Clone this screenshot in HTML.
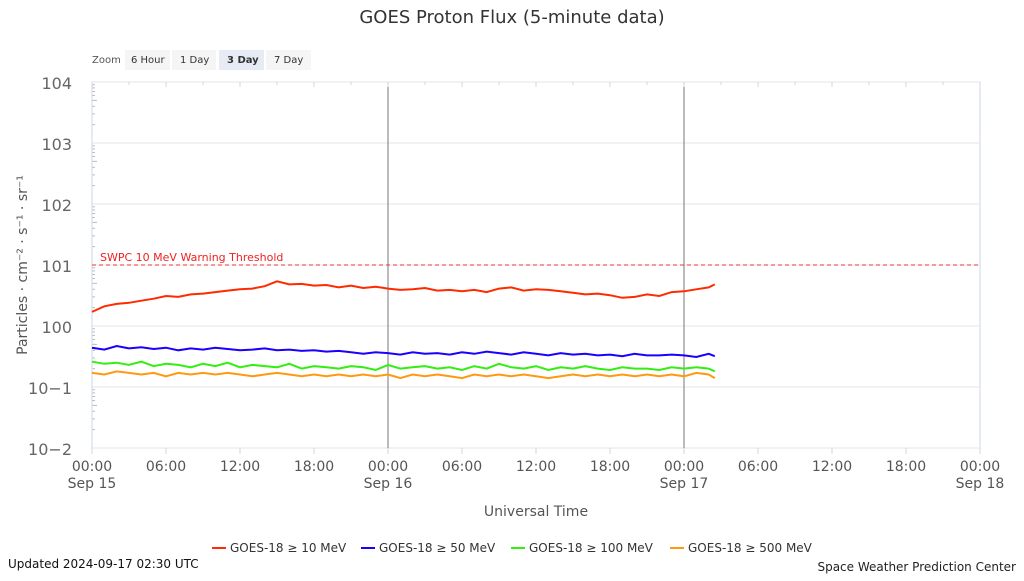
<!DOCTYPE html>
<html><head><meta charset="utf-8"><style>
body{margin:0;background:#fff;font-family:"Liberation Sans","DejaVu Sans",sans-serif}
svg text{font-family:"DejaVu Sans","Liberation Sans",sans-serif}
</style></head><body>
<svg id="c" width="1024" height="576" xmlns="http://www.w3.org/2000/svg">
<rect width="1024" height="576" fill="#fff"/>
<text x="512" y="23" text-anchor="middle" font-size="18" fill="#333">GOES Proton Flux (5-minute data)</text>
<g font-size="10" fill="#333">
<text x="92" y="63" fill="#555">Zoom</text>
<rect x="125" y="50" width="45" height="20" fill="#f5f5f5"/><text x="131" y="63">6 Hour</text>
<rect x="172" y="50" width="44" height="20" fill="#f5f5f5"/><text x="180" y="63">1 Day</text>
<rect x="219" y="50" width="45" height="20" fill="#e6ebf5"/><text x="227" y="63" font-weight="bold">3 Day</text>
<rect x="266" y="50" width="45" height="20" fill="#f5f5f5"/><text x="274" y="63">7 Day</text>
</g>
<g id="plot"></g>
<text transform="translate(27,265) rotate(-90)" text-anchor="middle" font-size="14" fill="#555">Particles · cm⁻² · s⁻¹ · sr⁻¹</text>
<text x="536" y="516" text-anchor="middle" font-size="14" fill="#555">Universal Time</text>
<g id="legend" font-size="12" fill="#333"></g>
<text x="8" y="568" font-size="12" fill="#111">Updated 2024-09-17 02:30 UTC</text>
<text x="1016" y="571" text-anchor="end" font-size="12" fill="#222">Space Weather Prediction Center</text>
</svg>
<script>
const hours=[0,1,2,3,4,5,6,7,8,9,10,11,12,13,14,15,16,17,18,19,20,21,22,23,24,25,26,27,28,29,30,31,32,33,34,35,36,37,38,39,40,41,42,43,44,45,46,47,48,49,50,50.5];
const p10=[1.7,2.1,2.3,2.4,2.6,2.8,3.1,3.0,3.3,3.4,3.6,3.8,4.0,4.1,4.5,5.4,4.8,4.9,4.6,4.7,4.3,4.6,4.2,4.4,4.1,3.9,4.0,4.2,3.8,3.9,3.7,3.9,3.6,4.1,4.3,3.8,4.0,3.9,3.7,3.5,3.3,3.4,3.2,2.9,3.0,3.3,3.1,3.6,3.7,4.0,4.3,4.8];
const p50=[0.44,0.41,0.47,0.43,0.45,0.42,0.44,0.40,0.43,0.41,0.44,0.42,0.40,0.41,0.43,0.40,0.41,0.39,0.40,0.38,0.39,0.37,0.35,0.37,0.36,0.34,0.37,0.35,0.36,0.34,0.37,0.35,0.38,0.36,0.34,0.37,0.35,0.33,0.36,0.34,0.35,0.33,0.34,0.32,0.35,0.33,0.33,0.34,0.33,0.31,0.35,0.32];
const p100=[0.26,0.24,0.25,0.23,0.26,0.22,0.24,0.23,0.21,0.24,0.22,0.25,0.21,0.23,0.22,0.21,0.24,0.20,0.22,0.21,0.20,0.22,0.21,0.19,0.23,0.20,0.21,0.22,0.20,0.21,0.19,0.22,0.20,0.24,0.21,0.20,0.22,0.19,0.21,0.20,0.22,0.20,0.19,0.21,0.20,0.20,0.19,0.21,0.20,0.21,0.20,0.18];
const p500=[0.17,0.16,0.18,0.17,0.16,0.17,0.15,0.17,0.16,0.17,0.16,0.17,0.16,0.15,0.16,0.17,0.16,0.15,0.16,0.15,0.16,0.15,0.16,0.15,0.16,0.14,0.16,0.15,0.16,0.15,0.14,0.16,0.15,0.16,0.15,0.16,0.15,0.14,0.15,0.16,0.15,0.16,0.15,0.16,0.15,0.16,0.15,0.16,0.15,0.17,0.16,0.14];
const yExps=[-2,-1,0,1,2,3,4];
const xTickLabels=["00:00","06:00","12:00","18:00","00:00","06:00","12:00","18:00","00:00","06:00","12:00","18:00","00:00"];
const xDateLabels={0:"Sep 15",4:"Sep 16",8:"Sep 17",12:"Sep 18"};
const threshold=10;
const seriesNames=["GOES-18 ≥ 10 MeV","GOES-18 ≥ 50 MeV","GOES-18 ≥ 100 MeV","GOES-18 ≥ 500 MeV"];
const seriesColors=["#ff2a00","#1a00ff","#33ee11","#ff9911"];
const series=[p10,p50,p100,p500];

const X0=92,X1=980,Y0=448,Y1=82,NS="http://www.w3.org/2000/svg";
const xs=h=>X0+(X1-X0)*h/72;
const ys=v=>Y0-(Y0-Y1)*(Math.log10(v)+2)/6;
const plot=document.getElementById('plot');
function mk(t,a,p){const e=document.createElementNS(NS,t);for(const k in a)e.setAttribute(k,a[k]);(p||plot).appendChild(e);return e;}
let e=mk('rect',{x:X0,y:Y1,width:X1-X0,height:Y0-Y1,fill:'#fff',stroke:'#ccd6eb'});

yExps.forEach(ex=>{const y=ys(Math.pow(10,ex));
 e=mk('line',{x1:X0,x2:X1,y1:y,y2:y,stroke:'#e6e6e6'});
 
 e=mk('text',{x:72,y:y+7,'text-anchor':'end','font-size':16,fill:'#666'});
 e.textContent='10'+(ex<0?'−'+(-ex):ex);
 
 if(ex<4)for(let m=2;m<10;m++){const yy=ys(m*Math.pow(10,ex));mk('line',{x1:X0,x2:X0+(m==5?5:3),y1:yy,y2:yy,stroke:'#bbb'});}
});
mk('line',{x1:X0,x2:X0,y1:Y1,y2:Y0,stroke:'#ccd6eb'});
[24,48].forEach(h=>{e=mk('line',{x1:xs(h),x2:xs(h),y1:Y1,y2:Y0,stroke:'#777','stroke-width':1});
 });
for(let h=0;h<=72;h+=3)mk('line',{x1:xs(h),x2:xs(h),y1:Y1,y2:Y1+(h%6?3:5),stroke:'#ccd6eb'});
xTickLabels.forEach((l,i)=>{const x=xs(i*6);
 mk('line',{x1:x,x2:x,y1:Y0,y2:Y0+6,stroke:'#ccd6eb'});
 e=mk('text',{x:x,y:471,'text-anchor':'middle','font-size':14,fill:'#555'});e.textContent=l;
 
 if(xDateLabels[i]){e=mk('text',{x:x,y:488,'text-anchor':'middle','font-size':14,fill:'#555'});e.textContent=xDateLabels[i];
 }
});
const ty=ys(threshold);
e=mk('line',{x1:X0,x2:X1,y1:ty,y2:ty,stroke:'#ee3333','stroke-dasharray':'4,3'});

e=mk('text',{x:100,y:ty-4,'font-size':11,fill:'#ee2222'});e.textContent='SWPC 10 MeV Warning Threshold';

series.forEach((s,i)=>{
 const d=s.map((v,j)=>(j?'L':'M')+xs(hours[j]).toFixed(1)+','+ys(v).toFixed(1)).join('');
 e=mk('path',{d:d,fill:'none',stroke:seriesColors[i],'stroke-width':2});
 
});
const lg=document.getElementById('legend');const lx=[212,361,511,670];
seriesNames.forEach((n,i)=>{
 const g=mk('g',{},lg);
 
 mk('line',{x1:lx[i],x2:lx[i]+14,y1:548,y2:548,stroke:seriesColors[i],'stroke-width':2},g);
 const t=mk('text',{x:lx[i]+18,y:552},g);t.textContent=n;
});
</script>
</body></html>
